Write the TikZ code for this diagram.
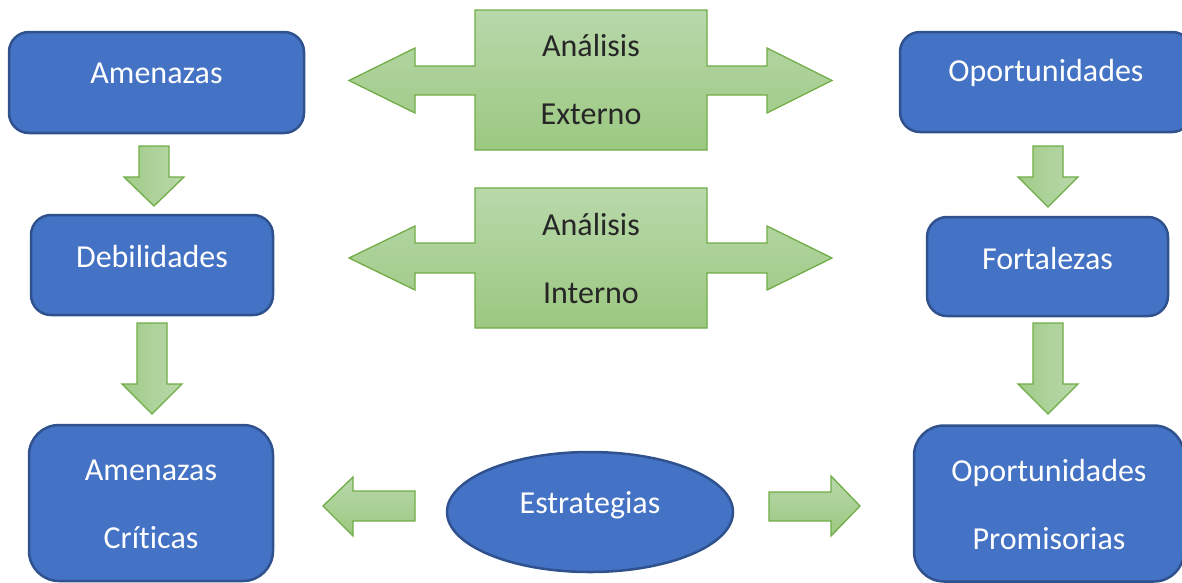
\documentclass[tikz,border=0pt]{standalone}
\usepackage{fontspec}
\setmainfont[Ligatures={NoCommon,NoRequired}]{Carlito}
\usetikzlibrary{shapes.geometric}
\definecolor{boxblue}{HTML}{4472C4}
\definecolor{boxline}{HTML}{2F528F}
\definecolor{gtop}{HTML}{B8D8AA}
\definecolor{gbot}{HTML}{9CC881}
\definecolor{gline}{HTML}{70AD47}
\definecolor{dtext}{HTML}{262626}
\begin{document}
\begin{tikzpicture}[x=1pt,y=-1pt,
  bluebox/.style={draw=boxline, fill=boxblue, line width=2.5pt, rounded corners=20pt, inner sep=0pt},
  wtext/.style={text=white, font=\fontsize{32}{68}\selectfont, align=center, inner sep=0pt},
  gtext/.style={text=dtext, font=\fontsize{32}{68}\selectfont, align=center, inner sep=0pt},
  garrowv/.style={draw=gline, line width=1.3pt, top color=gtop, bottom color=gbot, line join=miter},
  garrowh/.style={draw=gline, line width=1.3pt, left color=gbot!80!gtop, right color=gtop, line join=miter}]
\useasboundingbox (0,0) rectangle (1182,582);

% blue boxes
\node[bluebox, minimum width=295pt, minimum height=101pt] (amen) at (156.5,82.5) {};
\node[wtext] (amenT) at (156.5,73) {Amenazas};
\node[bluebox, minimum width=292pt, minimum height=100pt] (opor) at (1046,82) {};
\node[wtext] (oporT) at (1046,73) {Oportunidades};
\node[bluebox, minimum width=242pt, minimum height=100pt] (debil) at (152,265) {};
\node[wtext] (debilT) at (152,256) {Debilidades};
\node[bluebox, minimum width=241pt, minimum height=99pt] (fort) at (1047.5,266.5) {};
\node[wtext] (fortT) at (1047.5,258) {Fortalezas};
\node[bluebox, rounded corners=30pt, minimum width=244pt, minimum height=156pt] (amcrit) at (151,503) {};
\node[wtext] (amcritT) at (151,504) {Amenazas\\Críticas};
\node[bluebox, rounded corners=30pt, minimum width=270pt, minimum height=156pt] (oprom) at (1049,503.5) {};
\node[wtext] (opromT) at (1049,504) {Oportunidades\\Promisorias};
\node[ellipse, draw=boxline, fill=boxblue, line width=2.5pt, minimum width=286pt, minimum height=120pt, inner sep=0pt] (estr) at (590,512) {};
\node[wtext] (estrT) at (590,505) {Estrategias};

% double arrows
\path[garrowv] (349,80.5) -- (415,48) -- (415,66) -- (475,66) -- (475,10) -- (707,10) -- (707,66) -- (767,66) -- (767,48) -- (832,80.5) -- (767,113) -- (767,95) -- (707,95) -- (707,150) -- (475,150) -- (475,95) -- (415,95) -- (415,113) -- cycle;
\node[gtext] (ext) at (591,80) {Análisis\\Externo};
\path[garrowv] (349,258) -- (415,226) -- (415,243) -- (475,243) -- (475,188) -- (707,188) -- (707,243) -- (767,243) -- (767,226) -- (832,258) -- (767,290) -- (767,273) -- (707,273) -- (707,328) -- (475,328) -- (475,273) -- (415,273) -- (415,290) -- cycle;
\node[gtext] (int) at (591,258) {Análisis\\Interno};

% down arrows
\path[garrowh] (139,146) -- (169,146) -- (169,177) -- (184,177) -- (154,206) -- (124,177) -- (139,177) -- cycle;
\path[garrowh] (137,323) -- (167,323) -- (167,384) -- (182,384) -- (152,414) -- (122,384) -- (137,384) -- cycle;
\path[garrowh] (1033,146) -- (1063,146) -- (1063,177) -- (1078,177) -- (1048,207) -- (1018,177) -- (1033,177) -- cycle;
\path[garrowh] (1033,323) -- (1063,323) -- (1063,384) -- (1078,384) -- (1048,414) -- (1018,384) -- (1033,384) -- cycle;

% horizontal arrows at bottom
\path[garrowv] (323,506) -- (353,477) -- (353,491) -- (415,491) -- (415,521) -- (353,521) -- (353,536) -- cycle;
\path[garrowv] (769,492) -- (831,492) -- (831,476) -- (860,506) -- (831,536) -- (831,521) -- (769,521) -- cycle;
\end{tikzpicture}
\end{document}
